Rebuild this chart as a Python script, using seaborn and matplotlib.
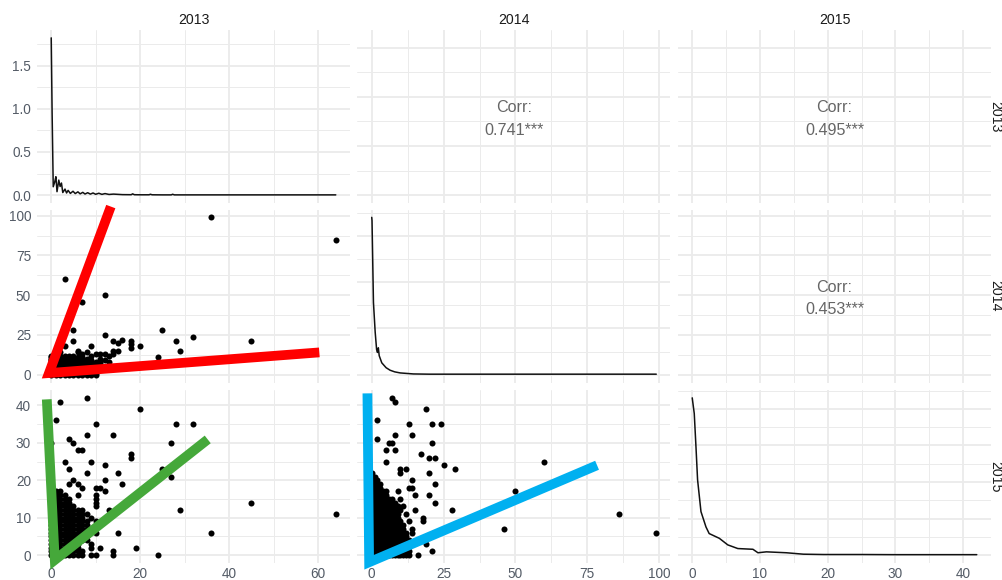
import matplotlib
matplotlib.use("Agg")
import matplotlib.pyplot as plt
from matplotlib.ticker import MultipleLocator, FormatStrFormatter
import pandas as pd
import seaborn as sns

sns.set_theme(style="white")
plt.rcParams["font.family"] = ["Liberation Sans", "DejaVu Sans"]

# ---------------------------------------------------------------- variables
years = ["2013", "2014", "2015"]
year_max = [64, 99, 42]
year_steps = [(20, 10), (25, 12.5), (10, 5)]   # (major, minor) grid spacing

# ---------------------------------------------------------------- diagonal densities
dens_2013_x = [0, 0.2, 0.45, 0.8, 1.05, 1.3, 1.7, 2.0, 2.3, 2.6, 3.1, 3.45, 3.8,
               4.3, 4.9, 5.4, 6.0, 6.5, 7.1, 7.6, 8.2, 8.8, 9.4, 10.0, 10.7, 11.4,
               12.1, 13.0, 14.0, 16.0, 18.0, 18.3, 18.7, 20, 22, 22.3, 22.7, 25,
               27, 27.3, 27.7, 30, 40, 50, 64]
dens_2013_y = [1.82, 0.95, 0.097, 0.155, 0.213, 0.04, 0.174, 0.10, 0.14, 0.03,
               0.07, 0.025, 0.055, 0.02, 0.045, 0.018, 0.038, 0.015, 0.032, 0.013,
               0.028, 0.012, 0.025, 0.01, 0.022, 0.009, 0.018, 0.008, 0.012, 0.006,
               0.005, 0.015, 0.005, 0.004, 0.004, 0.01, 0.004, 0.003, 0.003, 0.01,
               0.003, 0.003, 0.003, 0.003, 0.003]

dens_2014_x = [0, 0.1, 0.6, 1.2, 1.7, 2.0, 2.3, 2.6, 3.5, 5.0, 6.4, 8.0, 9.9,
               14.5, 20, 40, 60, 80, 99]
dens_2014_y = [0.34, 0.333, 0.156, 0.092, 0.054, 0.048, 0.058, 0.041, 0.0255,
               0.015, 0.0095, 0.006, 0.0037, 0.0015, 0.001, 0.001, 0.001, 0.001,
               0.001]

dens_2015_x = [0, 0.3, 0.55, 0.79, 1.29, 2.03, 2.5, 4.0, 5.25, 6.73, 8.96, 9.7,
               10.95, 13.9, 16.4, 19.4, 25, 30, 35, 40, 42]
dens_2015_y = [0.43, 0.387, 0.297, 0.206, 0.119, 0.077, 0.059, 0.046, 0.028,
               0.018, 0.016, 0.0065, 0.009, 0.0065, 0.0026, 0.0017, 0.0017,
               0.0013, 0.0013, 0.0013, 0.0013]

density_x = [dens_2013_x, dens_2014_x, dens_2015_x]
density_y = [dens_2013_y, dens_2014_y, dens_2015_y]
density_steps = [(0.5, 0.25), (0.1, 0.05), (0.1, 0.05)]

# ---------------------------------------------------------------- upper triangle
corr_cells = [(0, 1), (0, 2), (1, 2)]
corr_values = ["0.741", "0.495", "0.453"]
corr_signif = "***"

# ---------------------------------------------------------------- lower triangle
# isolated observations (x, y) and dense cores given as {y: largest x}
pts_13_14 = [(36, 99), (64, 85), (3, 60), (12, 50), (7, 46), (25, 28), (5, 28),
             (32, 24), (45, 21), (28, 21), (12, 25), (5, 21), (29, 15), (24, 11),
             (20, 18), (18, 21), (18, 19), (18, 17), (16, 22), (15, 20), (14, 21),
             (14, 15), (15, 15), (14, 13), (13, 8), (9, 18), (3, 18), (12, 13),
             (11, 13), (10, 13), (9, 12), (8, 14), (6, 15), (7, 13), (2, 14),
             (0, 12), (1, 12), (11, 10), (12, 9), (11, 7), (13, 12), (6, 14)]
core_13_14 = {0: 10, 1: 10, 2: 10, 3: 10, 4: 11, 5: 10, 6: 10, 7: 10, 8: 11,
              9: 9, 10: 8, 11: 7, 12: 5}

pts_13_15 = [(8, 42), (2, 41), (20, 39), (1, 36), (10, 35), (28, 35), (32, 35),
             (8, 32), (14, 32), (0, 30), (4, 31), (5, 30), (27, 30), (6, 28),
             (7, 28), (18, 27), (18, 26), (3, 25), (9, 25), (12, 24), (4, 23),
             (25, 23), (8, 22), (15, 22), (27, 21), (5, 20), (12, 20), (4, 19),
             (6, 19), (16, 19), (7, 18), (10, 18), (11, 18), (12, 17), (10, 16),
             (10, 15), (10, 14), (10, 13), (6, 16), (29, 12), (13, 12), (45, 14),
             (64, 11), (9, 10), (36, 6), (15, 6), (10, 6), (19, 2), (24, 0),
             (14, 1), (14, 0), (11, 2), (9, 3), (9, 2), (10, 0), (9, 0), (7, 12),
             (8, 11), (10, 9)]
core_13_15 = {0: 7, 1: 7, 2: 6, 3: 6, 4: 8, 5: 8, 6: 8, 7: 8, 8: 8, 9: 8,
              10: 7, 11: 7, 12: 6, 13: 5, 14: 4, 15: 4, 16: 3, 17: 2}

pts_14_15 = [(7, 42), (8, 41), (19, 39), (2, 36), (13, 35), (21, 35), (24, 35),
             (8, 32), (14, 32), (2, 31), (6, 30), (7, 30), (21, 30), (5, 28),
             (8, 28), (17, 27), (20, 26), (22, 26), (5, 25), (20, 22), (25, 24),
             (29, 23), (10, 23), (12, 23), (10, 22), (60, 25), (50, 17), (14, 20),
             (22, 19), (13, 18), (14, 18), (20, 16), (15, 16), (22, 14), (15, 12),
             (28, 12), (86, 11), (46, 7), (99, 6), (18, 10), (18, 9), (14, 7),
             (14, 6), (19, 3), (21, 1), (16, 0), (0, 22), (9, 17), (10, 15),
             (11, 13), (12, 11), (13, 9)]
core_14_15 = {0: 13, 1: 13, 2: 12, 3: 12, 4: 13, 5: 12, 6: 12, 7: 11, 8: 11,
              9: 10, 10: 9, 11: 9, 12: 10, 13: 9, 14: 8, 15: 7, 16: 5, 17: 5,
              18: 3, 19: 3, 20: 2, 21: 1}

scatter_cells = {(1, 0): (pts_13_14, core_13_14),
                 (2, 0): (pts_13_15, core_13_15),
                 (2, 1): (pts_14_15, core_14_15)}

# ---------------------------------------------------------------- highlight strokes
hl_red_x, hl_red_y = [13.4, -0.5, 60.3], [105.8, 1.0, 14.0]
hl_green_x, hl_green_y = [-1.0, 0.8, 35.2], [41.6, -1.3, 30.9]
hl_blue_x, hl_blue_y = [-1.5, -0.9, 78.4], [43.2, -1.9, 24.0]
highlights = {(1, 0): (hl_red_x, hl_red_y, "#FF0000"),
              (2, 0): (hl_green_x, hl_green_y, "#45A83A"),
              (2, 1): (hl_blue_x, hl_blue_y, "#00B0F0")}


def points_frame(isolated, core):
    pts = list(isolated)
    for yv, xmax in core.items():
        pts.extend((xv, yv) for xv in range(xmax + 1))
    return pd.DataFrame(pts, columns=["x", "y"]).drop_duplicates()


def style_axes(ax, xlim, xsteps, ylim, ysteps):
    ax.set_xlim(*xlim)
    ax.set_ylim(*ylim)
    ax.xaxis.set_major_locator(MultipleLocator(xsteps[0]))
    ax.xaxis.set_minor_locator(MultipleLocator(xsteps[1]))
    ax.yaxis.set_major_locator(MultipleLocator(ysteps[0]))
    ax.yaxis.set_minor_locator(MultipleLocator(ysteps[1]))
    ax.grid(which="major", color="#EBEBEB", linewidth=1.3)
    ax.grid(which="minor", color="#EBEBEB", linewidth=0.7)
    ax.set_axisbelow(True)
    ax.set_facecolor("white")
    for sp in ax.spines.values():
        sp.set_visible(False)
    ax.tick_params(which="both", length=0, labelsize=9.8, labelcolor="#535B66",
                   labelleft=False, labelbottom=False)
    ax.tick_params(axis="y", pad=4.3)
    ax.tick_params(axis="x", pad=3.2)
    ax.set_xlabel("")
    ax.set_ylabel("")


W, H = 1003, 580
col_left = [37, 357.5, 678]
col_w = 313
row_top = [30, 209.5, 390]
row_h = 173

fig = plt.figure(figsize=(W / 100, H / 100), dpi=100)
fig.patch.set_facecolor("white")


def year_lim(i):
    return (-0.05 * year_max[i], 1.05 * year_max[i])


for r in range(3):
    for c in range(3):
        ax = fig.add_axes([col_left[c] / W, 1 - (row_top[r] + row_h) / H,
                           col_w / W, row_h / H])
        if r == c:
            peak = max(density_y[r])
            sns.lineplot(x=density_x[r], y=density_y[r], ax=ax, sort=False,
                         estimator=None, color="#111111", linewidth=1.1)
            style_axes(ax, year_lim(c), year_steps[c],
                       (-0.05 * peak, 1.05 * peak), density_steps[r])
            if r == 0:
                ax.yaxis.set_major_formatter(FormatStrFormatter("%.1f"))
        elif r > c:
            isolated, core = scatter_cells[(r, c)]
            df = points_frame(isolated, core)
            sns.scatterplot(data=df, x="x", y="y", ax=ax, color="black", s=19,
                            linewidth=0, edgecolor=None)
            style_axes(ax, year_lim(c), year_steps[c], year_lim(r), year_steps[r])
            hx, hy, hc = highlights[(r, c)]
            ax.plot(hx, hy, color=hc, linewidth=7, solid_capstyle="butt",
                    solid_joinstyle="miter", clip_on=False, zorder=5)
        else:
            style_axes(ax, year_lim(c), year_steps[c], year_lim(r), year_steps[r])
            k = corr_cells.index((r, c))
            ax.text(0.5, 0.485, f"Corr:\n{corr_values[k]}{corr_signif}",
                    transform=ax.transAxes, ha="center", va="center",
                    fontsize=11.6, color="#666666", linespacing=1.6)
        if c == 0:
            ax.tick_params(labelleft=True)
        if r == 2:
            ax.tick_params(labelbottom=True)

for i, name in enumerate(years):
    fig.text((col_left[i] + col_w / 2) / W, 1 - 20 / H, name, ha="center",
             va="center", fontsize=10.2, color="#1A1A1A")
    fig.text(995 / W, 1 - (row_top[i] + row_h / 2) / H, name, ha="center",
             va="center", rotation=-90, fontsize=10.2, color="#1A1A1A")

fig.savefig("out.png", dpi=100, facecolor="white")
